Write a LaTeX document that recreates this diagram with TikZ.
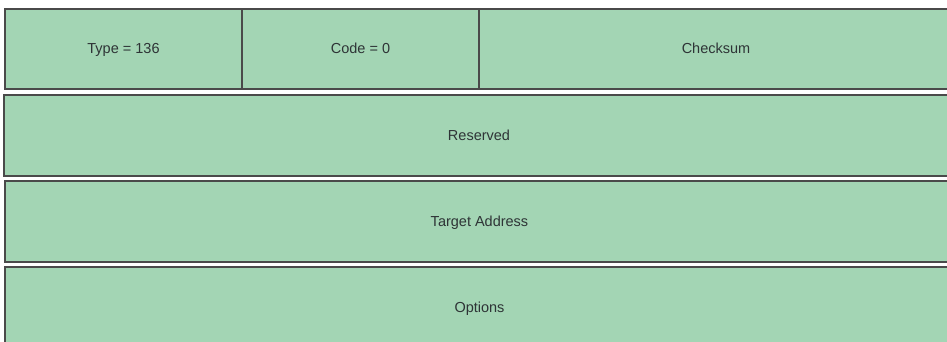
\documentclass[tikz,border=0pt]{standalone}
\usepackage{fontspec}
\setmainfont{Liberation Sans}
\definecolor{fieldgreen}{HTML}{A3D5B4}
\definecolor{fieldline}{HTML}{4A4A4A}
\definecolor{fieldtext}{HTML}{2E3436}
\tikzset{
    field/.style={draw=fieldline, fill=fieldgreen, line width=1.4pt,
        inner sep=0pt, minimum height=80pt, text=fieldtext,
        text height=2.3ex, text depth=.45ex,
        font=\fontsize{14.5}{16}\selectfont}
}
\begin{document}
\begin{tikzpicture}[x=1pt, y=-1pt]

    % --- Page frame (picture is 947 x 341) ---
    \useasboundingbox[fill=white] (0,0) rectangle (947,341);

    % --- First word: Type, Code, Checksum ---
    \node[field, minimum width=237pt] (type) at (123.5,49) {Type = 136};
    \node[field, minimum width=237pt] (code) at (360.5,49) {Code = 0};
    \node[field, minimum width=474pt] (checksum) at (716,49) {Checksum};

    % --- Full-width rows (they run past the right and bottom edges) ---
    \node[field, minimum width=950pt, minimum height=81pt] (reserved) at (479,135.5) {Reserved};
    \node[field, minimum width=949pt, minimum height=81pt] (target) at (479.5,221.5) {Target Address};
    \node[field, minimum width=949pt, minimum height=81pt] (options) at (479.5,307.5) {Options};

\end{tikzpicture}
\end{document}
